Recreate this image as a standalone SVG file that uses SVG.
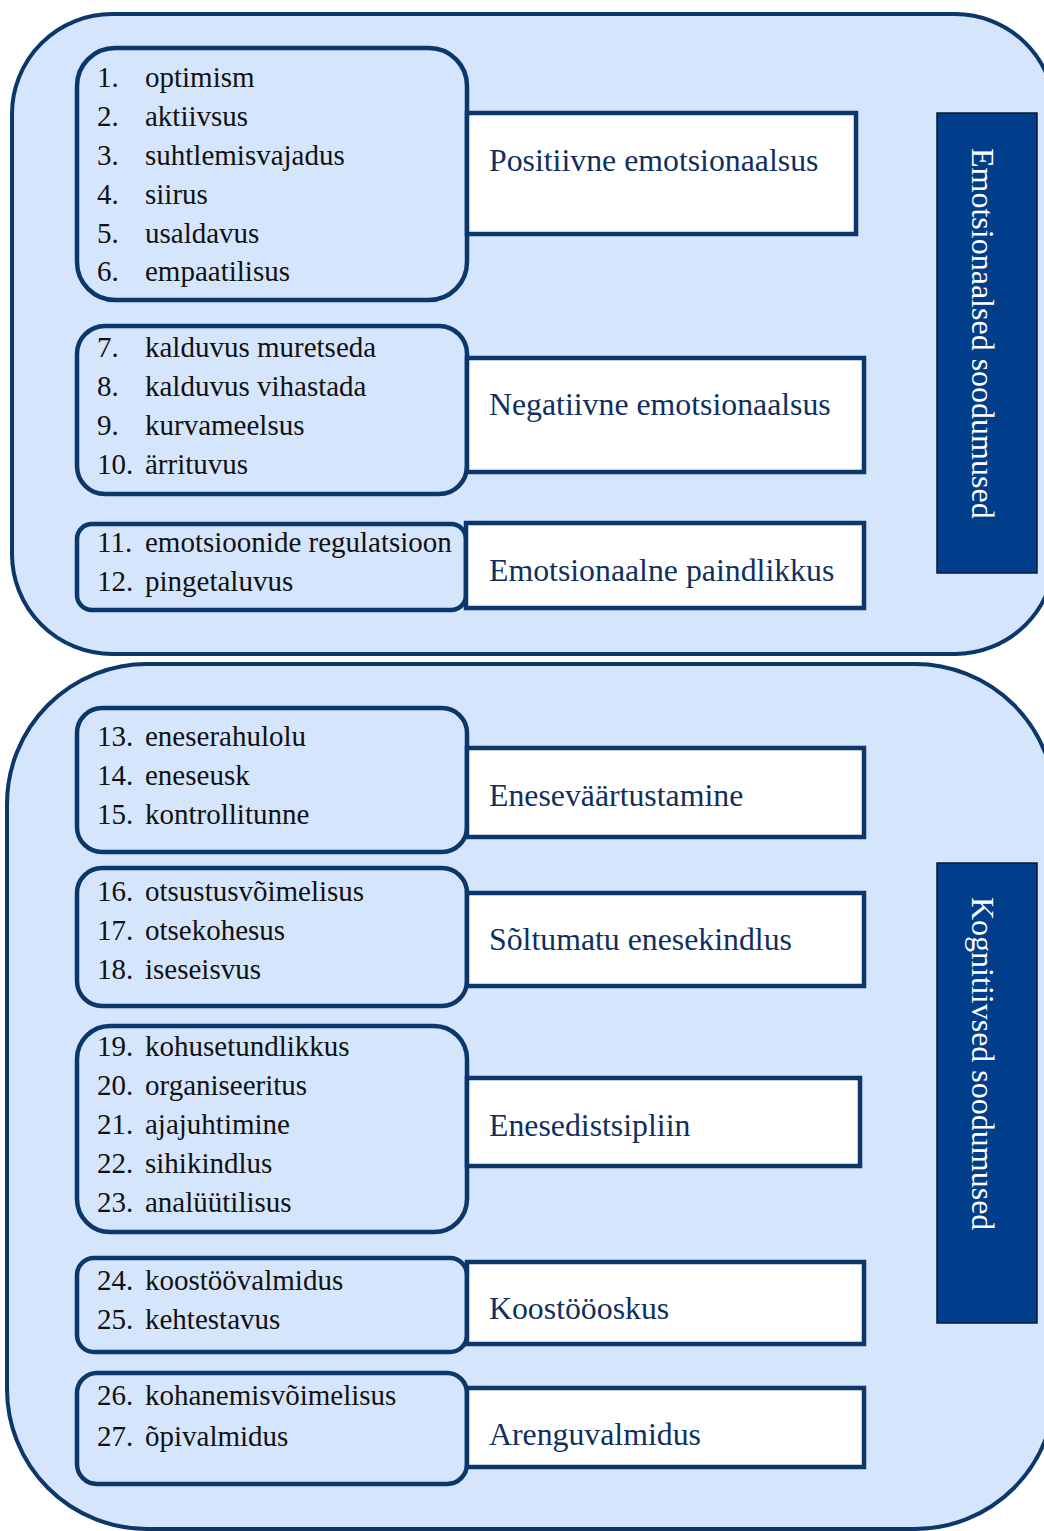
<svg xmlns="http://www.w3.org/2000/svg" width="1044" height="1531" viewBox="0 0 1044 1531">
<style>
.cont{fill:#d5e5fc;stroke:#0b376a;stroke-width:4}
.list{fill:#d5e5fc;stroke:#0b376a;stroke-width:4.5}
.lab{fill:#ffffff;stroke:#0b376a;stroke-width:4.5}
.dark{fill:#003e8b;stroke:#0a1a33;stroke-width:1.5}
.t{font-family:"Liberation Serif","Times New Roman",serif;font-size:29px;fill:#111111}
.lt{font-family:"Liberation Serif","Times New Roman",serif;font-size:31.8px;fill:#0f2f60}
.vt{font-family:"Liberation Serif","Times New Roman",serif;font-size:32px;fill:#ffffff}
</style>
<rect width="1044" height="1531" fill="#ffffff"/>
<g id="group-emotional">
<rect class="cont" x="12" y="14" width="1043" height="640" rx="100" ry="100"/>
</g>
<g id="group-cognitive">
<rect class="cont" x="7" y="664" width="1048" height="865" rx="140" ry="140"/>
</g>
<g id="cat-emotional">
<rect class="dark" x="937" y="113" width="100" height="460"/>
<text class="vt" transform="translate(972,148) rotate(90)">Emotsionaalsed soodumused</text>
</g>
<g id="cat-cognitive">
<rect class="dark" x="937" y="863" width="100" height="460"/>
<text class="vt" transform="translate(972,897) rotate(90)">Kognitiivsed soodumused</text>
</g>
<g id="list-1">
<rect class="list" x="77" y="48" width="390" height="252" rx="38"/>
<text class="t" x="97" y="87">1.</text><text class="t" x="145" y="87">optimism</text>
<text class="t" x="97" y="126">2.</text><text class="t" x="145" y="126">aktiivsus</text>
<text class="t" x="97" y="165">3.</text><text class="t" x="145" y="165">suhtlemisvajadus</text>
<text class="t" x="97" y="204">4.</text><text class="t" x="145" y="204">siirus</text>
<text class="t" x="97" y="243">5.</text><text class="t" x="145" y="243">usaldavus</text>
<text class="t" x="97" y="281">6.</text><text class="t" x="145" y="281">empaatilisus</text>
</g>
<g id="label-1">
<rect class="lab" x="467" y="113" width="389" height="121"/>
<text class="lt" x="489" y="171">Positiivne emotsionaalsus</text>
</g>
<g id="list-2">
<rect class="list" x="77" y="326" width="390" height="168" rx="28"/>
<text class="t" x="97" y="357">7.</text><text class="t" x="145" y="357">kalduvus muretseda</text>
<text class="t" x="97" y="396">8.</text><text class="t" x="145" y="396">kalduvus vihastada</text>
<text class="t" x="97" y="435">9.</text><text class="t" x="145" y="435">kurvameelsus</text>
<text class="t" x="97" y="474">10.</text><text class="t" x="145" y="474">ärrituvus</text>
</g>
<g id="label-2">
<rect class="lab" x="467" y="358" width="397" height="114"/>
<text class="lt" x="489" y="415">Negatiivne emotsionaalsus</text>
</g>
<g id="list-3">
<rect class="list" x="77" y="524" width="389" height="86" rx="15"/>
<text class="t" x="97" y="552">11.</text><text class="t" x="145" y="552">emotsioonide regulatsioon</text>
<text class="t" x="97" y="591">12.</text><text class="t" x="145" y="591">pingetaluvus</text>
</g>
<g id="label-3">
<rect class="lab" x="466" y="523" width="398" height="85"/>
<text class="lt" x="489" y="581">Emotsionaalne paindlikkus</text>
</g>
<g id="list-4">
<rect class="list" x="77" y="708" width="390" height="144" rx="25"/>
<text class="t" x="97" y="746">13.</text><text class="t" x="145" y="746">eneserahulolu</text>
<text class="t" x="97" y="785">14.</text><text class="t" x="145" y="785">eneseusk</text>
<text class="t" x="97" y="824">15.</text><text class="t" x="145" y="824">kontrollitunne</text>
</g>
<g id="label-4">
<rect class="lab" x="467" y="748" width="397" height="89"/>
<text class="lt" x="489" y="806">Eneseväärtustamine</text>
</g>
<g id="list-5">
<rect class="list" x="77" y="868" width="390" height="138" rx="25"/>
<text class="t" x="97" y="901">16.</text><text class="t" x="145" y="901">otsustusvõimelisus</text>
<text class="t" x="97" y="940">17.</text><text class="t" x="145" y="940">otsekohesus</text>
<text class="t" x="97" y="979">18.</text><text class="t" x="145" y="979">iseseisvus</text>
</g>
<g id="label-5">
<rect class="lab" x="467" y="893" width="397" height="93"/>
<text class="lt" x="489" y="950">Sõltumatu enesekindlus</text>
</g>
<g id="list-6">
<rect class="list" x="77" y="1026" width="390" height="206" rx="33"/>
<text class="t" x="97" y="1056">19.</text><text class="t" x="145" y="1056">kohusetundlikkus</text>
<text class="t" x="97" y="1095">20.</text><text class="t" x="145" y="1095">organiseeritus</text>
<text class="t" x="97" y="1134">21.</text><text class="t" x="145" y="1134">ajajuhtimine</text>
<text class="t" x="97" y="1173">22.</text><text class="t" x="145" y="1173">sihikindlus</text>
<text class="t" x="97" y="1212">23.</text><text class="t" x="145" y="1212">analüütilisus</text>
</g>
<g id="label-6">
<rect class="lab" x="467" y="1078" width="393" height="88"/>
<text class="lt" x="489" y="1136">Enesedistsipliin</text>
</g>
<g id="list-7">
<rect class="list" x="77" y="1258" width="390" height="94" rx="17"/>
<text class="t" x="97" y="1290">24.</text><text class="t" x="145" y="1290">koostöövalmidus</text>
<text class="t" x="97" y="1329">25.</text><text class="t" x="145" y="1329">kehtestavus</text>
</g>
<g id="label-7">
<rect class="lab" x="467" y="1262" width="397" height="82"/>
<text class="lt" x="489" y="1319">Koostööoskus</text>
</g>
<g id="list-8">
<rect class="list" x="77" y="1373" width="390" height="111" rx="20"/>
<text class="t" x="97" y="1405">26.</text><text class="t" x="145" y="1405">kohanemisvõimelisus</text>
<text class="t" x="97" y="1446">27.</text><text class="t" x="145" y="1446">õpivalmidus</text>
</g>
<g id="label-8">
<rect class="lab" x="467" y="1388" width="397" height="79"/>
<text class="lt" x="489" y="1445">Arenguvalmidus</text>
</g>
</svg>
